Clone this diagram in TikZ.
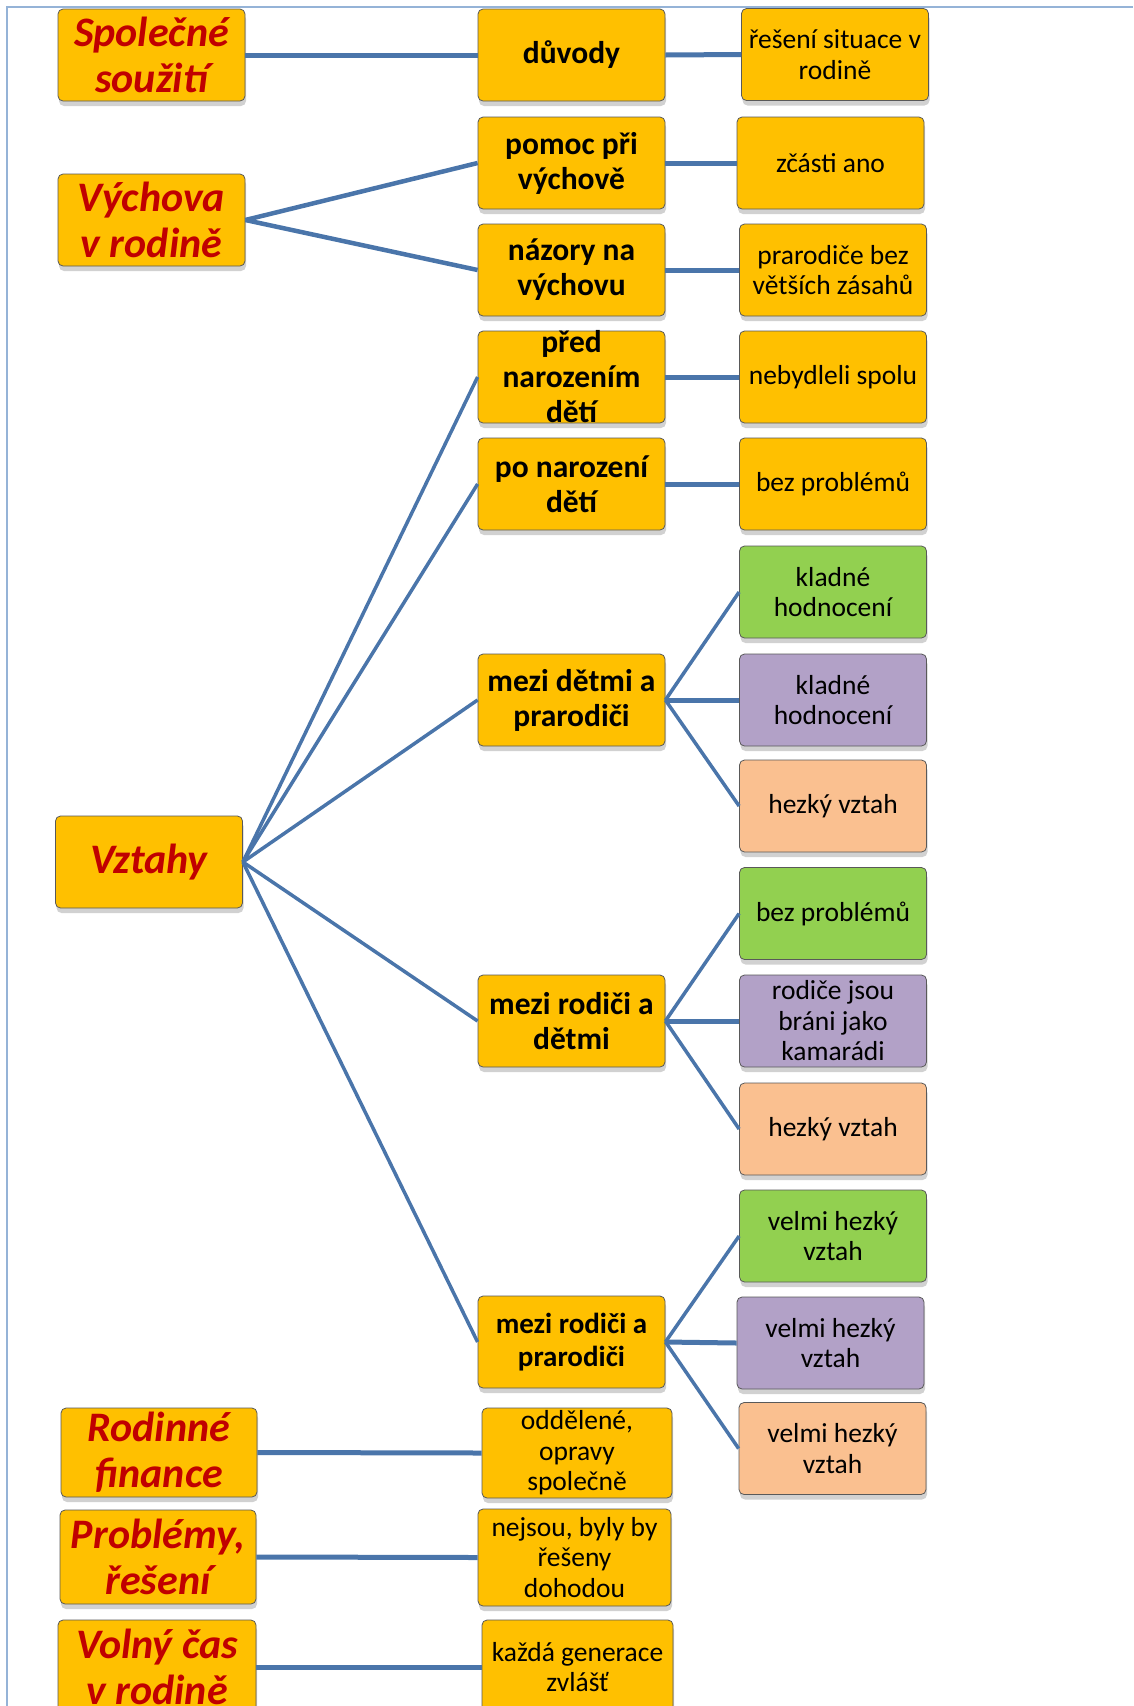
\documentclass[tikz,border=0pt]{standalone}
\usepackage{fontspec}
\setmainfont{Carlito}
\usepackage{tikz}
\usetikzlibrary{shadows}
\definecolor{gold}{RGB}{255,192,0}
\definecolor{leafgreen}{RGB}{146,208,80}
\definecolor{leafpurple}{RGB}{178,161,199}
\definecolor{leafpeach}{RGB}{250,192,144}
\definecolor{topicred}{RGB}{192,0,0}
\definecolor{linkblue}{RGB}{74,117,170}
\definecolor{frameblue}{RGB}{149,179,215}
\begin{document}
\begin{tikzpicture}[
    x=1pt, y=-1pt,
    box/.style={draw=black!65, line width=0.8pt, rounded corners=5pt, minimum width=187pt, minimum height=92pt, inner xsep=0pt, inner ysep=-4pt, align=center, fill=gold,
        drop shadow={shadow xshift=1pt, shadow yshift=-5pt, opacity=0.3, fill=black!60}},
    topic/.style={box, text=topicred, font=\fontsize{42}{46}\selectfont\bfseries\itshape},
    sub/.style={box, font=\fontsize{31.5}{35}\selectfont\bfseries},
    leaf/.style={box, font=\fontsize{27.5}{30.5}\selectfont},
    link/.style={linkblue, line width=5pt},
    fan/.style={linkblue, line width=3.5pt}
]
    \useasboundingbox (0,0) rectangle (1133,1706);

    % Frame
    \draw[frameblue, line width=2pt] (7,1706) -- (7,7) -- (1133,7);

    % Left column
    \node[topic] (spolecne) at (151.5,55) {Společné\\soužití};
    \node[topic] (vychova) at (151.5,220) {Výchova\\v rodině};
    \node[topic] (vztahy) at (149,862) {Vztahy};
    \node[topic, minimum width=196pt, minimum height=89pt] (finance) at (159,1452.5) {Rodinné\\finance};
    \node[topic, minimum width=196pt, minimum height=94pt] (problemy) at (158,1557) {Problémy,\\řešení};
    \node[topic, minimum width=198pt, minimum height=94pt] (volny) at (157,1667) {Volný čas\\v rodině};

    % Middle column
    \node[sub] (duvody) at (571.5,55) {důvody};
    \node[sub] (pomoc) at (571.5,163) {pomoc při\\výchově};
    \node[sub] (nazory) at (571.5,270) {názory na\\výchovu};
    \node[sub] (pred) at (571.5,377) {před\\narozením\\dětí};
    \node[sub] (po) at (571.5,484) {po narození\\dětí};
    \node[sub] (detmi) at (571.5,700) {mezi dětmi a\\prarodiči};
    \node[sub] (rodicedeti) at (571.5,1021) {mezi rodiči a\\dětmi};
    \node[sub, font=\fontsize{29}{33}\selectfont\bfseries] (rodiceprarodice) at (571.5,1342) {mezi rodiči a\\prarodiči};
    \node[leaf, minimum width=190pt, minimum height=90pt] (oddelene) at (577,1453) {oddělené,\\opravy\\společně};
    \node[leaf, minimum width=193pt, minimum height=97pt] (nejsou) at (574.5,1557.5) {nejsou, byly by\\řešeny\\dohodou};
    \node[leaf, minimum width=191pt, minimum height=94pt] (kazda) at (577.5,1667) {každá generace\\zvlášť};

    % Right column
    \node[leaf] (reseni) at (835,54.5) {řešení situace v\\rodině};
    \node[leaf] (castecne) at (830.5,163) {zčásti ano};
    \node[leaf] (bezzasahu) at (833,270) {prarodiče bez\\větších zásahů};
    \node[leaf] (nebydleli) at (833,377) {nebydleli spolu};
    \node[leaf] (bezproblemu) at (833,484) {bez problémů};
    \node[leaf, fill=leafgreen] (kladnea) at (833,592) {kladné\\hodnocení};
    \node[leaf, fill=leafpurple] (kladneb) at (833,700) {kladné\\hodnocení};
    \node[leaf, fill=leafpeach] (hezkya) at (833,806) {hezký vztah};
    \node[leaf, fill=leafgreen] (bezproblemub) at (833,913.5) {bez problémů};
    \node[leaf, fill=leafpurple] (kamaradi) at (833,1021) {rodiče jsou\\bráni jako\\kamarádi};
    \node[leaf, fill=leafpeach] (hezkyb) at (833,1129) {hezký vztah};
    \node[leaf, fill=leafgreen] (velmia) at (833,1236) {velmi hezký\\vztah};
    \node[leaf, fill=leafpurple] (velmib) at (830.5,1343) {velmi hezký\\vztah};
    \node[leaf, fill=leafpeach] (velmic) at (832.5,1448.5) {velmi hezký\\vztah};

    % Connectors
    \draw[link] (spolecne.east) -- (duvody.west);
    \draw[link] (duvody.east) -- (reseni.west);
    \draw[fan, line width=4.5pt] (vychova.east) -- (pomoc.west);
    \draw[fan, line width=4.5pt] (vychova.east) -- (nazory.west);
    \draw[link] (pomoc.east) -- (castecne.west);
    \draw[link] (nazory.east) -- (bezzasahu.west);

    \draw[fan] (vztahy.east) -- (pred.west);
    \draw[fan] (vztahy.east) -- (po.west);
    \draw[fan] (vztahy.east) -- (detmi.west);
    \draw[fan] (vztahy.east) -- (rodicedeti.west);
    \draw[fan] (vztahy.east) -- (rodiceprarodice.west);
    \draw[link] (pred.east) -- (nebydleli.west);
    \draw[link] (po.east) -- (bezproblemu.west);

    \draw[fan] (detmi.east) -- (kladnea.west);
    \draw[link] (detmi.east) -- (kladneb.west);
    \draw[fan] (detmi.east) -- (hezkya.west);
    \draw[fan] (rodicedeti.east) -- (bezproblemub.west);
    \draw[link] (rodicedeti.east) -- (kamaradi.west);
    \draw[fan] (rodicedeti.east) -- (hezkyb.west);
    \draw[fan] (rodiceprarodice.east) -- (velmia.west);
    \draw[link] (rodiceprarodice.east) -- (velmib.west);
    \draw[fan] (rodiceprarodice.east) -- (velmic.west);

    \draw[link] (finance.east) -- (oddelene.west);
    \draw[link] (problemy.east) -- (nejsou.west);
    \draw[link] (volny.east) -- (kazda.west);
\end{tikzpicture}
\end{document}
